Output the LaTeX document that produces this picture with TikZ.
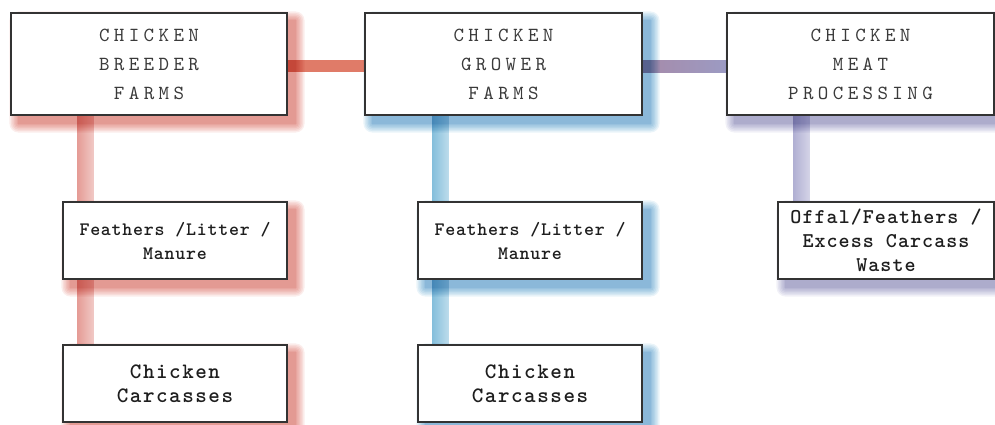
\documentclass[tikz,border=0pt]{standalone}
\usepackage{fontspec}
\usetikzlibrary{calc}
\newfontfamily\topfont[LetterSpace=22]{lmmono10-regular.otf}
\newfontfamily\feathfont[LetterSpace=4]{lmmonolt10-bold.otf}
\newfontfamily\carcfont[LetterSpace=7]{lmmonolt10-bold.otf}
\newfontfamily\offalfont[LetterSpace=5]{lmmonolt10-bold.otf}
\definecolor{redsh}{HTML}{E5887E}
\definecolor{bluesh}{HTML}{72B4D8}
\definecolor{lavsh}{HTML}{A3A2CC}
\definecolor{redbarH}{HTML}{E07B68}
\definecolor{redbarV}{HTML}{E59C96}
\definecolor{bluebar}{HTML}{86BFDB}
\definecolor{lavbar}{HTML}{B1B0D3}
\definecolor{mauveL}{HTML}{A68AA9}
\definecolor{mauveR}{HTML}{9C9BC3}
\definecolor{boxline}{HTML}{333333}
\definecolor{toptext}{HTML}{3A3A3A}
\definecolor{lowtext}{HTML}{1E1E1E}
\pgfdeclarelayer{bg}
\pgfdeclarelayer{mid}
\pgfsetlayers{bg,mid,main}
\newcommand\blurshadow[2]{%
  \foreach \e in {9,7.5,6,4.5,3,1.5,0}{%
    \fill[#2, fill opacity=0.15, rounded corners=\e pt]
      ($(#1.north west)+(8-\e,8-\e)$) rectangle ($(#1.south east)+(8+\e,8+\e)$);
  }}
\tikzset{
  box/.style={draw=boxline, fill=white, line width=1.1pt, inner sep=0pt, align=center},
  topbox/.style={box, minimum height=102pt, text=toptext,
    font=\topfont\fontsize{20}{29}\selectfont},
  lowbox/.style={box, minimum height=77pt, text=lowtext},
  feathtext/.style={font=\feathfont\fontsize{19}{24}\selectfont},
  carctext/.style={font=\carcfont\fontsize{22}{24}\selectfont},
  offaltext/.style={font=\offalfont\fontsize{21}{24}\selectfont},
  vbar/.style={left color=#1, middle color=#1, right color=#1!55!white}
}
\begin{document}
\begin{tikzpicture}[x=1pt,y=-1pt]
\useasboundingbox (0,0) rectangle (995,424);
% boxes
\node[topbox, minimum width=276pt] (A) at (149,64) {CHICKEN\\BREEDER\\FARMS};
\node[topbox, minimum width=277pt] (B) at (503.5,64) {CHICKEN\\GROWER\\FARMS};
\node[topbox, minimum width=267pt] (C) at (860.5,64) {CHICKEN\\MEAT\\PROCESSING};
\node[lowbox, feathtext, minimum width=224pt] (D) at (175,240.5) {Feathers /Litter /\\Manure};
\node[lowbox, carctext, minimum width=224pt] (E) at (175,383.5) {Chicken\\Carcasses};
\node[lowbox, feathtext, minimum width=224pt] (F) at (530,240.5) {Feathers /Litter /\\Manure};
\node[lowbox, carctext, minimum width=224pt] (G) at (530,383.5) {Chicken\\Carcasses};
\node[lowbox, offaltext, minimum width=216pt] (H) at (886,240.5) {Offal/Feathers /\\Excess Carcass\\Waste};
% connector anchor points
\coordinate (d1) at ($(D.north west)+(23,0)$);
\coordinate (e1) at ($(E.north west)+(23,0)$);
\coordinate (f1) at ($(F.north west)+(23,0)$);
\coordinate (g1) at ($(G.north west)+(23,0)$);
\coordinate (h1) at ($(H.north west)+(24,0)$);
\begin{pgfonlayer}{bg}
  \fill[redbarH] ($(A.east)+(0,-4)$) rectangle ($(B.west)+(0,8)$);
  \fill[left color=mauveL, right color=mauveR] ($(B.east)+(0,-4)$) rectangle ($(C.west)+(0,8)$);
  \fill[vbar=redbarV] ($(A.south -| d1)+(-8,0)$) rectangle ($(d1)+(8,0)$);
  \fill[vbar=redbarV] ($(D.south -| e1)+(-8,0)$) rectangle ($(e1)+(8,0)$);
  \fill[vbar=bluebar] ($(B.south -| f1)+(-8,0)$) rectangle ($(f1)+(8,0)$);
  \fill[vbar=bluebar] ($(F.south -| g1)+(-8,0)$) rectangle ($(g1)+(8,0)$);
  \fill[vbar=lavbar] ($(C.south -| h1)+(-8,0)$) rectangle ($(h1)+(8,0)$);
\end{pgfonlayer}
\begin{pgfonlayer}{mid}
  \begin{scope}[blend mode=multiply]
    \blurshadow{A}{redsh}
    \blurshadow{D}{redsh}
    \blurshadow{E}{redsh}
    \blurshadow{B}{bluesh}
    \blurshadow{F}{bluesh}
    \blurshadow{G}{bluesh}
    \blurshadow{C}{lavsh}
    \blurshadow{H}{lavsh}
  \end{scope}
\end{pgfonlayer}
\end{tikzpicture}
\end{document}
